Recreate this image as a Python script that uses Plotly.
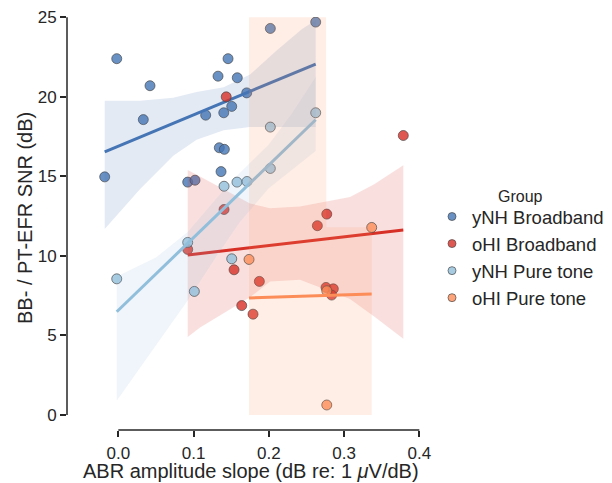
import numpy as np
import plotly.graph_objects as go

# ---------------- data ----------------
groups = ["yNH Broadband", "oHI Broadband", "yNH Pure tone", "oHI Pure tone"]
line_colors = ["#4575b4", "#d73027", "#91bfdb", "#fc8d59"]

ynh_bb_x = [-0.0181, -0.0021, 0.0332, 0.0421, 0.0922, 0.1019, 0.1161, 0.1325, 0.1342,
            0.1409, 0.1365, 0.1401, 0.1458, 0.1507, 0.1581, 0.1706, 0.2020, 0.2623]
ynh_bb_y = [14.97, 22.4, 18.57, 20.7, 14.64, 14.76, 18.85, 21.3, 16.8,
            16.7, 15.3, 19.0, 22.4, 19.4, 21.2, 20.25, 24.3, 24.7]

ohi_bb_x = [0.1434, 0.1405, 0.0922, 0.1538, 0.1874, 0.1640, 0.1790, 0.2770, 0.2645,
            0.2760, 0.2857, 0.2835, 0.3787]
ohi_bb_y = [20.0, 12.92, 10.41, 9.13, 8.4, 6.88, 6.34, 12.63, 11.9,
            8.02, 7.93, 7.54, 17.57]

ynh_pt_x = [-0.0021, 0.0922, 0.1010, 0.1405, 0.1507, 0.1577, 0.1710, 0.2020, 0.2020, 0.2623]
ynh_pt_y = [8.56, 10.85, 7.77, 14.38, 9.82, 14.64, 14.68, 15.5, 18.1, 19.0]

ohi_pt_x = [0.1737, 0.2770, 0.3367, 0.2770]
ohi_pt_y = [9.78, 7.81, 11.79, 0.63]

# confidence bands (bootstrap bands)
ynh_bb_band_x = [-0.0181, 0.029, 0.073, 0.104, 0.140, 0.175, 0.210, 0.245, 0.2623]
ynh_bb_band_lo = [11.7, 14.2, 16.3, 17.3, 17.9, 18.1, 18.1, 18.1, 18.1]
ynh_bb_band_hi = [19.75, 19.75, 19.95, 20.3, 20.6, 21.4, 22.9, 24.3, 24.8]

ohi_bb_band_x = [0.0922, 0.1086, 0.175, 0.2016, 0.2415, 0.3079, 0.340, 0.3787]
ohi_bb_band_lo = [4.9, 5.5, 7.4, 8.4, 8.5, 7.3, 6.2, 4.8]
ohi_bb_band_hi = [15.4, 15.0, 13.3, 13.0, 13.1, 13.7, 14.5, 15.7]

ynh_pt_band_x = [-0.0021, 0.05, 0.0922, 0.13, 0.161, 0.20, 0.23, 0.2623]
ynh_pt_band_lo = [0.9, 4.4, 7.2, 9.95, 12.1, 14.25, 15.4, 16.6]
ynh_pt_band_hi = [8.7, 9.9, 11.5, 13.6, 15.2, 17.0, 18.9, 21.25]

ohi_pt_band_x = [0.1737, 0.2760, 0.2765, 0.3367]
ohi_pt_band_lo = [0.0, 0.0, 0.0, 0.0]
ohi_pt_band_hi = [25.0, 25.0, 11.8, 11.8]

x_ticks = [0.0, 0.1, 0.2, 0.3, 0.4]
x_tick_labels = ["0.0", "0.1", "0.2", "0.3", "0.4"]
y_ticks = [0, 5, 10, 15, 20, 25]

xs = [ynh_bb_x, ohi_bb_x, ynh_pt_x, ohi_pt_x]
ys = [ynh_bb_y, ohi_bb_y, ynh_pt_y, ohi_pt_y]
bands = [(ynh_bb_band_x, ynh_bb_band_lo, ynh_bb_band_hi),
         (ohi_bb_band_x, ohi_bb_band_lo, ohi_bb_band_hi),
         (ynh_pt_band_x, ynh_pt_band_lo, ynh_pt_band_hi),
         (ohi_pt_band_x, ohi_pt_band_lo, ohi_pt_band_hi)]


def rgba(hexc, a):
    h = hexc.lstrip("#")
    r, g, b = int(h[0:2], 16), int(h[2:4], 16), int(h[4:6], 16)
    return f"rgba({r},{g},{b},{a})"


FONT = "Liberation Sans, Arial, sans-serif"
INK = "#262626"

fig = go.Figure()

for i, name in enumerate(groups):
    c = line_colors[i]
    x = np.array(xs[i]); y = np.array(ys[i])
    # scatter
    fig.add_trace(go.Scatter(
        x=x, y=y, mode="markers", showlegend=False, hoverinfo="skip",
        marker=dict(size=10, color=rgba(c, 0.8),
                    line=dict(color="rgba(70,70,70,0.85)", width=0.8))))
    # band
    bx, blo, bhi = bands[i]
    fig.add_trace(go.Scatter(
        x=list(bx) + list(bx)[::-1], y=list(bhi) + list(blo)[::-1],
        mode="lines", fill="toself", fillcolor=rgba(c, 0.15),
        line=dict(width=0), showlegend=False, hoverinfo="skip"))
    # regression line
    slope, icpt = np.polyfit(x, y, 1)
    lx = np.array([x.min(), x.max()])
    fig.add_trace(go.Scatter(
        x=lx, y=icpt + slope * lx, mode="lines", showlegend=False,
        line=dict(color=c, width=3), hoverinfo="skip"))

# legend entries
for i, name in enumerate(groups):
    fig.add_trace(go.Scatter(
        x=[None], y=[None], mode="markers", name=name, legendgroup=name,
        marker=dict(size=8, color=rgba(line_colors[i], 0.8),
                    line=dict(color="rgba(70,70,70,0.85)", width=0.8))))

# spines (trimmed, offset)
fig.add_shape(type="line", xref="paper", yref="y", x0=0, x1=0, y0=0, y1=25,
              line=dict(color=INK, width=1.5))
fig.add_shape(type="line", xref="x", yref="paper", x0=0, x1=0.4, y0=0, y1=0,
              line=dict(color=INK, width=1.5))

# axis titles
fig.add_annotation(text="ABR amplitude slope (dB re: 1 <i>μ</i>V/dB)", xref="paper", yref="paper",
                   x=(251 - 67) / 353, y=(430 - 471) / 413, showarrow=False,
                   xanchor="center", yanchor="middle",
                   font=dict(size=20, color=INK, family=FONT))
fig.add_annotation(text="BB- / PT-EFR SNR (dB)", xref="paper", yref="paper",
                   x=(25 - 67) / 353, y=(430 - 218) / 413, showarrow=False, textangle=-90,
                   xanchor="center", yanchor="middle",
                   font=dict(size=20, color=INK, family=FONT))
# legend title
fig.add_annotation(text="Group", xref="paper", yref="paper",
                   x=(520 - 67) / 353, y=(430 - 196) / 413, showarrow=False,
                   xanchor="center", yanchor="middle",
                   font=dict(size=16, color=INK, family=FONT))

fig.update_layout(
    width=612, height=483,
    margin=dict(l=67, r=192, t=17, b=53, autoexpand=False),
    plot_bgcolor="white", paper_bgcolor="white",
    font=dict(family=FONT, color=INK, size=17),
    xaxis=dict(range=[-0.0682, 0.4009], tickvals=x_ticks, ticktext=x_tick_labels,
               ticks="outside", ticklen=6, tickwidth=1.5, tickcolor=INK,
               showgrid=False, zeroline=False, showline=False, ticklabelstandoff=2,
               tickfont=dict(size=17, color=INK, family=FONT)),
    yaxis=dict(range=[-0.942, 25.02], tickvals=y_ticks,
               ticks="outside", ticklen=6, tickwidth=1.5, tickcolor=INK,
               showgrid=False, zeroline=False, showline=False,
               tickfont=dict(size=17, color=INK, family=FONT)),
    legend=dict(x=(432 - 67) / 353, xanchor="left", y=(430 - 198) / 413, yanchor="top",
                font=dict(size=18.5, color=INK, family=FONT),
                tracegroupgap=0, bgcolor="rgba(0,0,0,0)"),
)

fig.write_html("out.html")
